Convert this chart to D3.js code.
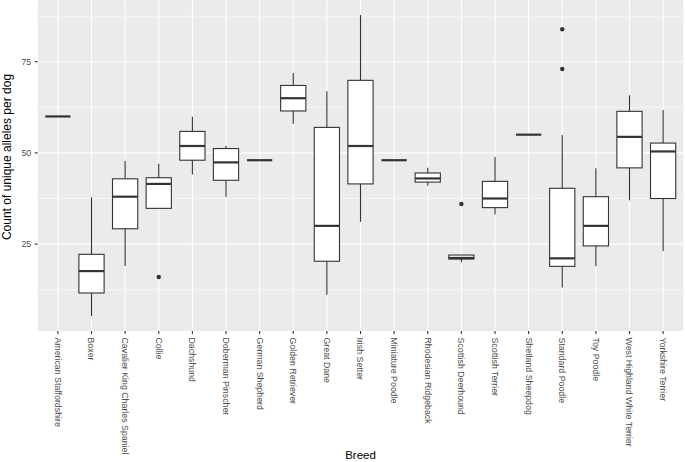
<!DOCTYPE html>
<html><head><meta charset="utf-8">
<script src="https://cdn.jsdelivr.net/npm/d3@7"></script>
<style>body{margin:0;background:#fff}svg{display:block}text{font-family:"Liberation Sans",Arial,sans-serif}</style>
</head><body><svg id="c" width="685" height="462"></svg>
<script>
const breeds = ["American Staffordshire","Boxer","Cavalier King Charles Spaniel","Collie","Dachshund","Doberman Pinscher","German Shepherd","Golden Retriever","Great Dane","Irish Setter","Miniature Poodle","Rhodesian Ridgeback","Scottish Deerhound","Scottish Terrier","Shetland Sheepdog","Standard Poodle","Toy Poodle","West Highland White Terrier","Yorkshire Terrier"];
const whiskerLow  = [60, 5.3, 19.0, 34.8, 44.1, 38.0, 48, 58.0, 11.1, 31.1, 48, 41.0, 20.1, 33.1, 55, 13.1, 18.9, 37.0, 23.1];
const q1          = [60, 11.6, 29.2, 34.8, 48.0, 42.5, 48, 61.5, 20.3, 41.5, 48, 42.0, 20.9, 35.0, 55, 18.9, 24.5, 45.9, 37.5];
const medians     = [60, 17.6, 38.0, 41.5, 51.9, 47.4, 48, 65.0, 30.0, 51.9, 48, 43.0, 21.2, 37.5, 55, 21.1, 30.0, 54.4, 50.4];
const q3          = [60, 22.2, 42.9, 43.2, 55.9, 51.2, 48, 68.5, 57.0, 69.9, 48, 44.5, 22.0, 42.2, 55, 40.3, 38.0, 61.4, 52.7];
const whiskerHigh = [60, 37.8, 47.8, 47.0, 59.9, 51.9, 48, 71.9, 66.9, 87.8, 48, 45.9, 22.0, 48.9, 55, 54.9, 45.8, 65.8, 61.8];
const outliers    = [[],[],[],[16.0],[],[],[],[],[],[],[],[],[36.0],[],[],[83.9,73.0],[],[],[]];
const yTicks = [25, 50, 75];
const yTitle = "Count of unique alleles per dog";
const xTitle = "Breed";

const svg = d3.select("#c");
const P = {l:37.7, r:683.3, t:0, b:331};
const data = breeds.map((b,i)=>({b, lo:whiskerLow[i], q1:q1[i], med:medians[i], q3:q3[i], hi:whiskerHigh[i], out:outliers[i]}));
const allV = data.flatMap(d=>[d.lo,d.hi,...d.out]);
const mn = d3.min(allV), mx = d3.max(allV), ex=(mx-mn)*0.05;
const y = d3.scaleLinear().domain([mn-ex, mx+ex]).range([P.b, P.t]);
// ggplot discrete: 0.6 expansion each side
const n = breeds.length;
const xs = d3.scalePoint().domain(breeds).range([0, n-1]);
const unit = (P.r-P.l)/(n-1+1.2);
const cx = i => P.l + (0.6+xs(breeds[i]))*unit;
const bw = unit*0.75;

svg.append("rect").attr("x",P.l).attr("y",P.t).attr("width",P.r-P.l).attr("height",P.b-P.t).attr("fill","#EBEBEB");
const g = svg.append("g");
const minor = [];
const tk = yTicks;
for(let i=0;i<tk.length-1;i++) minor.push((tk[i]+tk[i+1])/2);
minor.push(tk[0]-12.5); minor.push(tk[tk.length-1]+12.5);
g.selectAll(".mn").data(minor.filter(v=>v>=y.domain()[0]&&v<=y.domain()[1])).join("line")
  .attr("x1",P.l).attr("x2",P.r).attr("y1",d=>y(d)).attr("y2",d=>y(d)).attr("stroke","#fff").attr("stroke-width",0.55);
g.selectAll(".mj").data(yTicks).join("line")
  .attr("x1",P.l).attr("x2",P.r).attr("y1",d=>y(d)).attr("y2",d=>y(d)).attr("stroke","#fff").attr("stroke-width",1.1);
g.selectAll(".vx").data(breeds).join("line")
  .attr("x1",(d,i)=>cx(i)).attr("x2",(d,i)=>cx(i)).attr("y1",P.t).attr("y2",P.b).attr("stroke","#fff").attr("stroke-width",1.1);

const bx = svg.append("g").selectAll("g").data(data).join("g");
bx.append("line").attr("x1",(d,i)=>cx(i)).attr("x2",(d,i)=>cx(i)).attr("y1",d=>y(d.hi)).attr("y2",d=>y(d.q3)).attr("stroke","#333").attr("stroke-width",1.1);
bx.append("line").attr("x1",(d,i)=>cx(i)).attr("x2",(d,i)=>cx(i)).attr("y1",d=>y(d.lo)).attr("y2",d=>y(d.q1)).attr("stroke","#333").attr("stroke-width",1.1);
bx.append("rect").attr("x",(d,i)=>cx(i)-bw/2).attr("width",bw).attr("y",d=>y(d.q3)).attr("height",d=>Math.max(0,y(d.q1)-y(d.q3)))
  .attr("fill","#fff").attr("stroke","#333").attr("stroke-width",1.1);
bx.append("line").attr("x1",(d,i)=>cx(i)-bw/2).attr("x2",(d,i)=>cx(i)+bw/2).attr("y1",d=>y(d.med)).attr("y2",d=>y(d.med)).attr("stroke","#333").attr("stroke-width",2.2);
bx.each(function(d,i){
  d3.select(this).selectAll("circle").data(d.out).join("circle").attr("cx",cx(i)).attr("cy",v=>y(v)).attr("r",2.2).attr("fill","#333");
});

const ya = svg.append("g");
ya.selectAll("line").data(yTicks).join("line").attr("x1",P.l-3).attr("x2",P.l).attr("y1",d=>y(d)).attr("y2",d=>y(d)).attr("stroke","#333").attr("stroke-width",1.1);
ya.selectAll("text").data(yTicks).join("text").attr("x",P.l-6.5).attr("y",d=>y(d)).attr("dy","0.35em").attr("text-anchor","end")
  .attr("font-size",8.8).attr("fill","#4D4D4D").text(d=>d);
const xa = svg.append("g");
xa.selectAll("line").data(breeds).join("line").attr("x1",(d,i)=>cx(i)).attr("x2",(d,i)=>cx(i)).attr("y1",P.b).attr("y2",P.b+3).attr("stroke","#333").attr("stroke-width",1.1);
xa.selectAll("text").data(breeds).join("text")
  .attr("transform",(d,i)=>`translate(${cx(i)},${P.b+6.5}) rotate(90)`)
  .attr("dy","0.35em").attr("text-anchor","start").attr("font-size",8.8).attr("fill","#4D4D4D").text(d=>d);

svg.append("text").attr("x",(P.l+P.r)/2).attr("y",459).attr("text-anchor","middle").attr("font-size",11.5).attr("fill","#000").text(xTitle);
svg.append("text").attr("transform",`translate(10.5,157) rotate(-90)`).attr("text-anchor","middle").attr("font-size",12).attr("fill","#000").text(yTitle);
</script></body></html>
